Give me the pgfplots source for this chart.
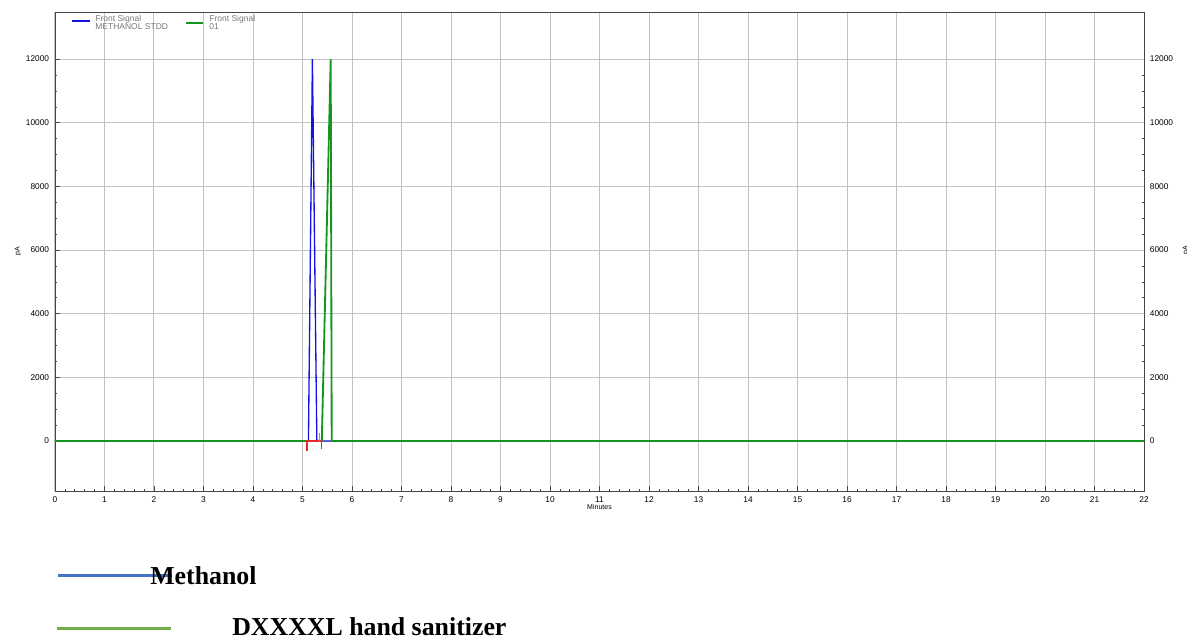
\documentclass[border=0pt]{standalone}
\usepackage{pgfplots}
\pgfplotsset{compat=1.18}
\usepackage{fontspec}
\setmainfont{Liberation Sans}
\newfontfamily\timesb{Liberation Serif}
\definecolor{cblue}{RGB}{20,20,225}
\definecolor{cgreen}{RGB}{20,150,30}
\definecolor{cred}{RGB}{235,40,40}
\definecolor{corange}{RGB}{240,120,60}
\definecolor{lblue}{RGB}{68,114,196}
\definecolor{lgreen}{RGB}{112,173,71}
\definecolor{gridc}{RGB}{195,195,195}
\definecolor{axc}{RGB}{70,70,70}
\definecolor{legt}{RGB}{120,120,120}
\begin{document}
\begin{tikzpicture}
\useasboundingbox (0,0) rectangle (712.2pt,383.4pt);
\pgfplotsset{
  base/.style={
    at={(33pt,88.8pt)}, anchor=south west,
    scale only axis, width=653.4pt, height=287.4pt,
    xmin=0, xmax=22, ymin=-1570, ymax=13480,
    xtick={0,1,...,22}, ytick={0,2000,...,12000},
    minor x tick num=4, minor y tick num=3,
    major tick style={draw=axc, line width=0.4pt},
    minor tick style={draw=axc, line width=0.4pt},
    major tick length=3pt, minor tick length=1.5pt,
    tick label style={font=\fontsize{5}{6}\selectfont},
    scaled y ticks=false,
    /pgf/number format/assume math mode=true,
    yticklabel style={/pgf/number format/1000 sep=},
    axis line style={draw=axc, line width=0.5pt},
  }
}
\begin{axis}[base,
  axis x line=none, axis y line*=right,
  yticklabel pos=right, ytick pos=right,
]
\addplot[draw=none, forget plot] coordinates {(0,0) (22,0)};
\end{axis}
\begin{axis}[base,
  grid=major, grid style={draw=gridc, line width=0.6pt},
  xtick pos=bottom, ytick pos=left,
  xlabel={Minutes}, xlabel style={font=\fontsize{4.2}{5}\selectfont, yshift=6pt},
  ylabel={pA}, ylabel style={font=\fontsize{4.2}{5}\selectfont, yshift=-4pt},
]
\addplot[draw=cblue, line width=0.8pt, forget plot] coordinates {(0,0) (5.12,0) (5.2,12000) (5.29,0) (5.59,0) (22,0)};
\addplot[draw=cgreen, line width=1.1pt, forget plot] coordinates {(0,0) (5.39,0) (5.57,12000) (5.59,0) (22,0)};
\addplot[draw=cred, line width=0.7pt, forget plot] coordinates {(5.09,-300) (5.09,0) (5.39,0) (5.39,-250)};
\addplot[draw=corange, line width=0.7pt, forget plot] coordinates {(5.35,0) (5.35,250)};
\addplot[draw=cred, line width=0.7pt, forget plot] coordinates {(5.58,0) (5.58,300)};
\end{axis}
% legend (in-chart)
\draw[draw=cblue, line width=0.8pt] (43.2pt,370.8pt) -- (54pt,370.8pt);
\node[anchor=west, align=left, inner sep=0pt, text=legt, font=\fontsize{5.1}{4.8}\selectfont] at (57pt,370.2pt) {Front Signal\\METHANOL STDD};
\draw[draw=cgreen, line width=0.8pt] (111.6pt,369.6pt) -- (121.8pt,369.6pt);
\node[anchor=west, align=left, inner sep=0pt, text=legt, font=\fontsize{5.1}{4.8}\selectfont] at (125.4pt,370.2pt) {Front Signal\\01};
\node[rotate=90, font=\fontsize{4.2}{5}\selectfont] at (711.6pt,233.4pt) {pA};
% legend (below chart)
\draw[lblue, line width=1.8pt] (34.8pt,38.4pt) -- (103.2pt,38.4pt);
\node[anchor=west, font=\timesb\bfseries\fontsize{15.5}{17}\selectfont, inner sep=0pt] at (90pt,37.8pt) {Methanol};
\draw[lgreen, line width=1.8pt] (34.2pt,6.6pt) -- (102.6pt,6.6pt);
\node[anchor=west, font=\timesb\bfseries\fontsize{15.5}{17}\selectfont, inner sep=0pt] at (139.2pt,7.4pt) {DXXXXL hand sanitizer};
\end{tikzpicture}
\end{document}
